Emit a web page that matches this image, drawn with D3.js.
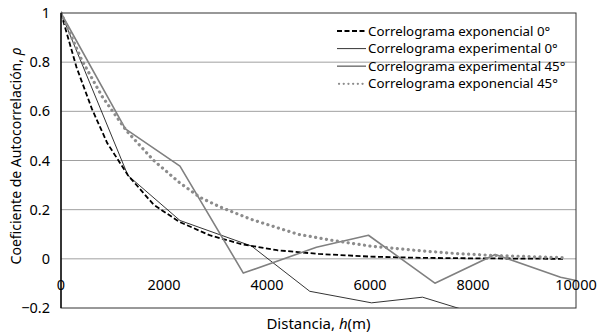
<!DOCTYPE html>
<html>
<head>
<meta charset="utf-8">
<script src="https://cdn.jsdelivr.net/npm/d3@7"></script>
<style>
  body { margin: 0; background: #fff; }
  svg { display: block; font-family: "Noto Sans", "Open Sans", sans-serif; }
</style>
</head>
<body>
<div class="chart"></div>
<script>
// lag distance (m) and correlogram values
var expo0 = [[0,1],[300,0.78],[600,0.61],[900,0.47],[1300,0.34],[1800,0.22],[2300,0.15],[2900,0.095],[3500,0.06],[4200,0.035],[5000,0.02],[6000,0.009],[7000,0.004],[8000,0.002],[9000,0.001],[9750,0.0]];
var expe0 = [[0,1],[1300,0.339],[2310,0.156],[3700,0.052],[4830,-0.132],[6030,-0.179],[7020,-0.156],[8400,-0.245]];
var expe45 = [[0,1],[1250,0.529],[2310,0.377],[3540,-0.058],[4960,0.047],[5970,0.096],[7260,-0.099],[8430,0.018],[9700,-0.075],[10000,-0.088]];
var expo45 = [[0,1],[400,0.81],[800,0.66],[1275,0.52],[1800,0.40],[2300,0.31],[2700,0.25],[3100,0.21],[3700,0.16],[4600,0.10],[5300,0.074],[6000,0.052],[6900,0.034],[7700,0.021],[8500,0.013],[9750,0.005]];

var seriesNames = ["Correlograma exponencial 0°", "Correlograma experimental 0°", "Correlograma experimental 45°", "Correlograma exponencial 45°"];
var xTicks = [0, 2000, 4000, 6000, 8000, 10000];
var yTicks = [-0.2, 0, 0.2, 0.4, 0.6, 0.8, 1];

var width = 598, height = 332;
var margin = {top: 13, right: 22, bottom: 24, left: 61};

var svg = d3.select(".chart").append("svg")
  .attr("width", width)
  .attr("height", height);

var x = d3.scaleLinear().domain([0, 10000]).range([margin.left, width - margin.right]);
var y = d3.scaleLinear().domain([-0.2, 1]).range([height - margin.bottom, margin.top]);

// gridlines
svg.append("g").selectAll("line")
  .data(yTicks.filter(function(d){ return d > -0.2 && d < 1; }))
  .enter().append("line")
  .attr("x1", x(0)).attr("x2", x(10000))
  .attr("y1", function(d){ return y(d); })
  .attr("y2", function(d){ return y(d); })
  .attr("stroke", "#a0a0a0")
  .attr("stroke-width", 1);

svg.append("defs").append("clipPath").attr("id", "plotclip")
  .append("rect")
  .attr("x", x(0)).attr("y", y(1) - 2)
  .attr("width", x(10000) - x(0) + 3)
  .attr("height", y(-0.2) - y(1) + 2);

var line = d3.line()
  .x(function(d){ return x(d[0]); })
  .y(function(d){ return y(d[1]); });

var styles = [
  {data: expo0, stroke: "#000", width: 1.8, dash: "5,2.5", cap: "butt"},
  {data: expe0, stroke: "#000", width: 0.8, dash: null, cap: "butt"},
  {data: expe45, stroke: "#808080", width: 1.6, dash: null, cap: "butt"},
  {data: expo45, stroke: "#8c8c8c", width: 3.2, dash: "0.1,5.4", cap: "round"}
];

var plot = svg.append("g").attr("clip-path", "url(#plotclip)");
plot.selectAll("path")
  .data(styles)
  .enter().append("path")
  .attr("d", function(d){ return line(d.data); })
  .attr("fill", "none")
  .attr("stroke", function(d){ return d.stroke; })
  .attr("stroke-width", function(d){ return d.width; })
  .attr("stroke-dasharray", function(d){ return d.dash; })
  .attr("stroke-linecap", function(d){ return d.cap; })
  .attr("stroke-linejoin", "round");

// plot border
svg.append("rect")
  .attr("x", x(0)).attr("y", y(1))
  .attr("width", x(10000) - x(0))
  .attr("height", y(-0.2) - y(1))
  .attr("fill", "none")
  .attr("stroke", "#333")
  .attr("stroke-width", 1);

// y axis line
svg.append("line")
  .attr("x1", x(0)).attr("x2", x(0))
  .attr("y1", y(1)).attr("y2", y(-0.2))
  .attr("stroke", "#000").attr("stroke-width", 1.3);

// y tick labels
svg.append("g").selectAll("text")
  .data(yTicks)
  .enter().append("text")
  .attr("x", 50)
  .attr("y", function(d){ return y(d); })
  .attr("dy", "0.35em")
  .attr("text-anchor", "end")
  .attr("font-size", 14.5)
  .attr("fill", "#000")
  .text(function(d){ return d3.format("")(+d.toFixed(1)); });

// x tick labels, next to the 0 axis
svg.append("g").selectAll("text")
  .data(xTicks)
  .enter().append("text")
  .attr("x", function(d){ return x(d); })
  .attr("y", y(0) + 31)
  .attr("text-anchor", "middle")
  .attr("font-size", 14.5)
  .attr("fill", "#000")
  .text(function(d){ return d; });

// axis titles
var xt = svg.append("text")
  .attr("x", (x(0) + x(10000)) / 2)
  .attr("y", 329)
  .attr("text-anchor", "middle")
  .attr("font-size", 15);
xt.append("tspan").text("Distancia, ");
xt.append("tspan").attr("font-style", "italic").text("h");
xt.append("tspan").text("(m)");

var yt = svg.append("text")
  .attr("transform", "translate(21," + 156 + ") rotate(-90)")
  .attr("text-anchor", "middle")
  .attr("font-size", 14);
yt.append("tspan").text("Coeficiente de Autocorrelación, ");
yt.append("tspan").attr("font-style", "italic").text("ρ");

// legend
var legend = svg.append("g").selectAll("g")
  .data(styles)
  .enter().append("g")
  .attr("transform", function(d, i){ return "translate(337," + (31 + i * 17.6) + ")"; });

legend.append("line")
  .attr("x1", function(d){ return d.cap == "round" ? 2 : 0; })
  .attr("x2", 29)
  .attr("stroke", function(d){ return d.stroke; })
  .attr("stroke-width", function(d){ return d.cap == "round" ? 2.2 : d.width; })
  .attr("stroke-dasharray", function(d){ return d.cap == "round" ? "0.1,4.6" : d.dash; })
  .attr("stroke-linecap", function(d){ return d.cap; });

legend.append("text")
  .attr("x", 31)
  .attr("dy", "0.35em")
  .attr("font-size", 13.3)
  .attr("fill", "#000")
  .text(function(d, i){ return seriesNames[i]; });
</script>
</body>
</html>
